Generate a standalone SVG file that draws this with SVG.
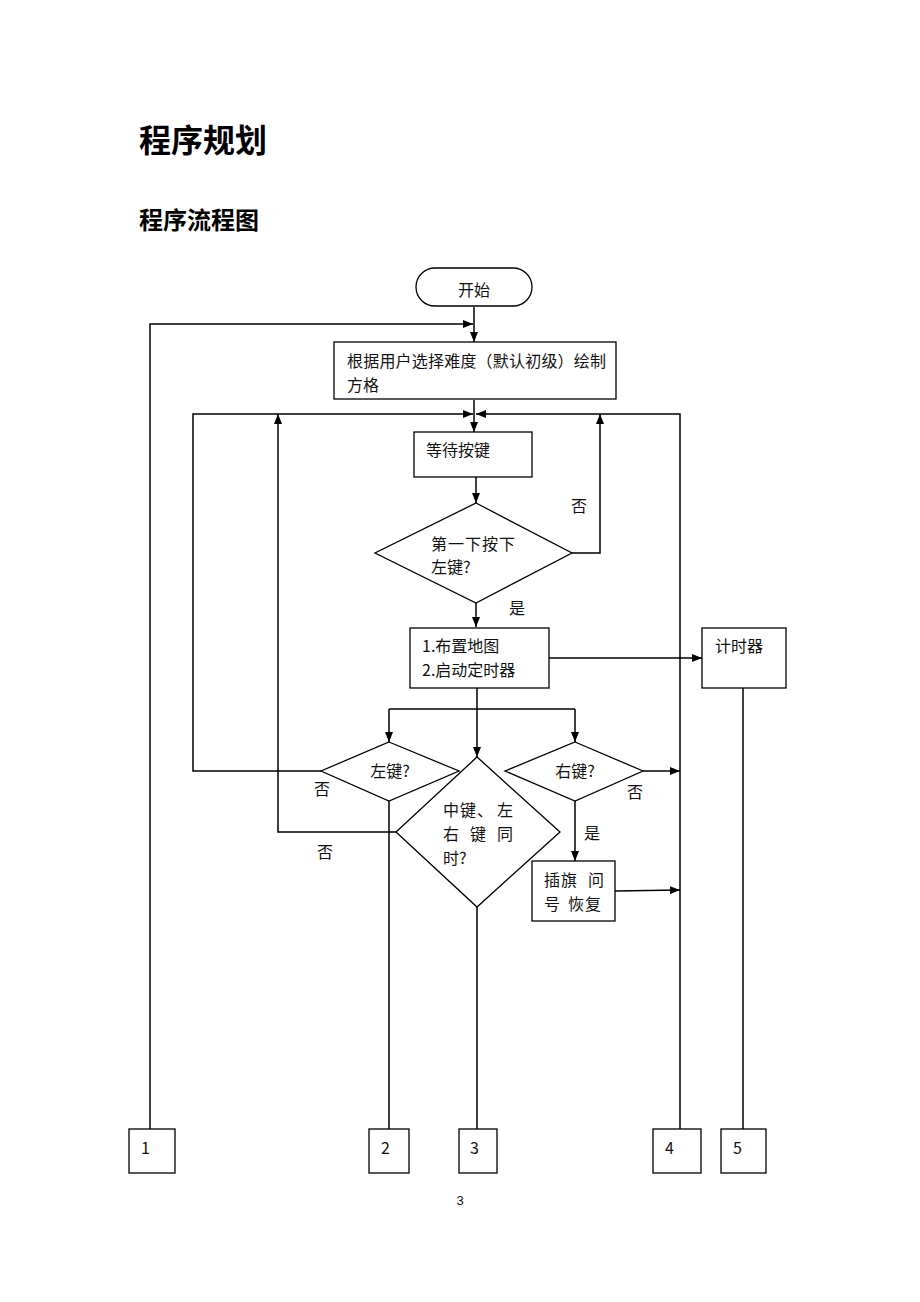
<svg xmlns="http://www.w3.org/2000/svg" width="920" height="1302" viewBox="0 0 920 1302">
<defs>
<marker id="ah" markerWidth="10" markerHeight="8" refX="10" refY="4" orient="auto" markerUnits="userSpaceOnUse">
<path d="M0,0 L10,4 L0,8 z" fill="#000"/>
</marker>
<style>
.n{fill:#fff;stroke:#000;stroke-width:1.3}
.c{fill:none;stroke:#000;stroke-width:1.5}
.a{marker-end:url(#ah)}
.t{font-family:"Noto Sans CJK SC","Liberation Sans",sans-serif;font-size:16px;fill:#111}
.h{font-family:"Noto Sans CJK SC","Liberation Sans",sans-serif;font-weight:bold;fill:#000}
</style>
</defs>
<rect width="920" height="1302" fill="#fff"/>
<text class="h" x="139" y="152" font-size="32">程序规划</text>
<text class="h" x="139" y="229" font-size="24">程序流程图</text>

<g id="connectors">
<path class="c a" d="M474,307 L474,342"/>
<path class="c a" d="M150,1129 L150,324 L473,324"/>
<path class="c a" d="M474,400 L474,432"/>
<path class="c a" d="M321,771 L193,771 L193,414 L473,414"/>
<path class="c a" d="M396,832 L278,832 L278,414"/>
<path class="c a" d="M680,1129 L680,414 L476,414"/>
<path class="c a" d="M572,553 L600,553 L600,414"/>
<path class="c a" d="M476,477 L476,503"/>
<path class="c a" d="M476,603 L476,627"/>
<path class="c a" d="M549,658 L702,658"/>
<path class="c a" d="M477,688 L477,757"/>
<path class="c" d="M389,709 L575,709"/>
<path class="c a" d="M389,709 L389,742"/>
<path class="c a" d="M575,709 L575,742"/>
<path class="c" d="M389,801 L389,1129"/>
<path class="c" d="M477,907 L477,1129"/>
<path class="c a" d="M643,771 L680,771"/>
<path class="c a" d="M575,801 L575,861"/>
<path class="c a" d="M615,891 L680,890"/>
<path class="c" d="M743,688 L743,1129"/>
</g>

<g id="start">
<rect class="n" x="416" y="268" width="116" height="38" rx="19"/>
<text class="t" x="474" y="296" text-anchor="middle">开始</text>
</g>
<g id="draw">
<rect class="n" x="334" y="342" width="282" height="57"/>
<text class="t" x="347" y="367" textLength="259" lengthAdjust="spacing">根据用户选择难度（默认初级）绘制</text>
<text class="t" x="347" y="391">方格</text>
</g>
<g id="wait">
<rect class="n" x="414" y="432" width="118" height="45"/>
<text class="t" x="426" y="456">等待按键</text>
</g>
<g id="first">
<polygon class="n" points="476,503 572,553 476,603 375,553"/>
<text class="t" x="431" y="550" letter-spacing="1">第一下按下</text>
<text class="t" x="431" y="573">左键?</text>
</g>
<text class="t" x="571" y="512">否</text>
<text class="t" x="509" y="614">是</text>
<g id="layout">
<rect class="n" x="410" y="628" width="139" height="60"/>
<text class="t" x="422" y="652">1.布置地图</text>
<text class="t" x="422" y="676">2.启动定时器</text>
</g>
<g id="timer">
<rect class="n" x="702" y="628" width="84" height="60"/>
<text class="t" x="715" y="652">计时器</text>
</g>
<g id="leftkey">
<polygon class="n" points="389,742 459,771 389,801 321,771"/>
<text class="t" x="390" y="777" text-anchor="middle">左键?</text>
</g>
<text class="t" x="314" y="795">否</text>
<g id="middle">
<polygon class="n" points="477,757 560,832 477,907 396,832"/>
<text class="t" y="816"><tspan x="443">中</tspan><tspan x="460">键</tspan><tspan x="477">、</tspan><tspan x="497">左</tspan></text>
<text class="t" y="840"><tspan x="443">右</tspan><tspan x="470">键</tspan><tspan x="497">同</tspan></text>
<text class="t" x="443" y="864">时?</text>
</g>
<text class="t" x="317" y="858">否</text>
<g id="rightkey">
<polygon class="n" points="575,742 643,771 575,801 505,771"/>
<text class="t" x="575" y="777" text-anchor="middle">右键?</text>
</g>
<text class="t" x="627" y="798">否</text>
<text class="t" x="584" y="839">是</text>
<g id="flag">
<rect class="n" x="532" y="861" width="83" height="60"/>
<text class="t" y="886"><tspan x="544">插</tspan><tspan x="561">旗</tspan><tspan x="588">问</tspan></text>
<text class="t" y="910"><tspan x="544">号</tspan><tspan x="568">恢</tspan><tspan x="585">复</tspan></text>
</g>
<g id="b1"><rect class="n" x="129" y="1129" width="46" height="44"/><text class="t" x="141" y="1154">1</text></g>
<g id="b2"><rect class="n" x="369" y="1129" width="40" height="44"/><text class="t" x="381" y="1154">2</text></g>
<g id="b3"><rect class="n" x="459" y="1129" width="38" height="44"/><text class="t" x="470" y="1154">3</text></g>
<g id="b4"><rect class="n" x="653" y="1129" width="48" height="44"/><text class="t" x="665" y="1154">4</text></g>
<g id="b5"><rect class="n" x="721" y="1129" width="45" height="44"/><text class="t" x="733" y="1154">5</text></g>
<text x="460" y="1205" text-anchor="middle" font-family="Liberation Sans, sans-serif" font-size="13" fill="#111">3</text>
</svg>
